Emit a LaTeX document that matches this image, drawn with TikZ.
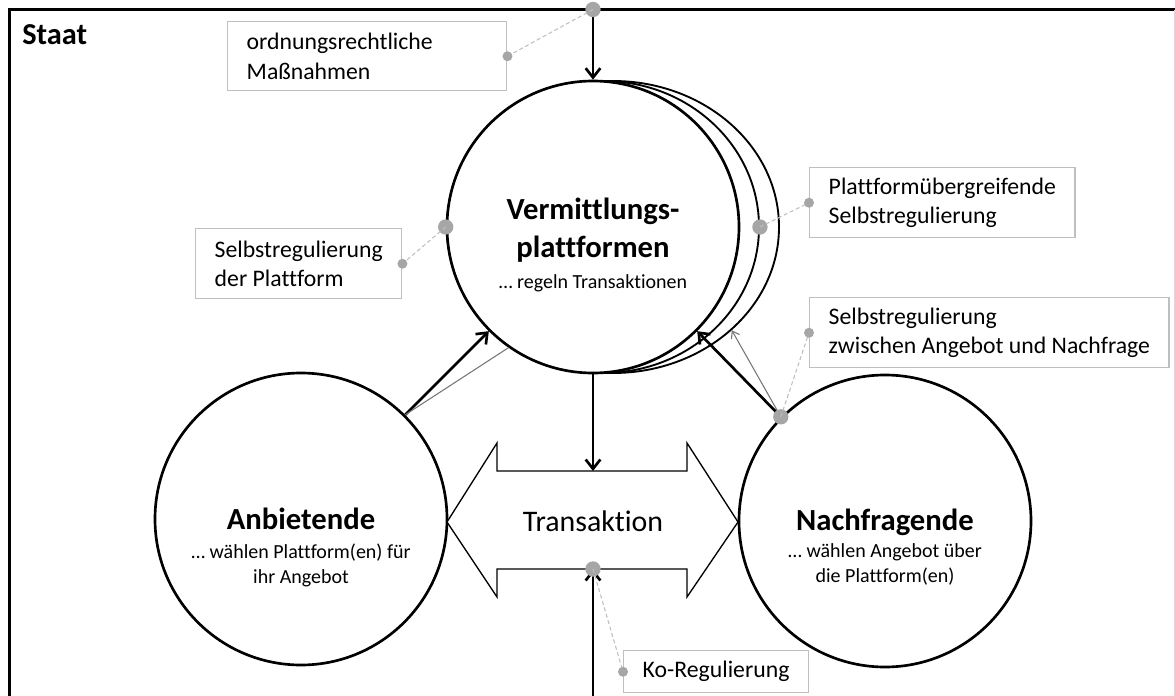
\documentclass[tikz,border=0pt]{standalone}
\usepackage{fontspec}
\setmainfont{Carlito}[Ligatures=NoCommon]
\usetikzlibrary{arrows.meta,shapes.geometric}
\definecolor{dotgray}{RGB}{166,166,166}
\definecolor{boxgray}{RGB}{191,191,191}
\definecolor{thingray}{RGB}{118,118,118}
\tikzset{>={Straight Barb[length=7pt,width=11pt]}}
\tikzset{
  actor/.style={circle,draw,line width=2pt,fill=white,minimum size=219pt,inner sep=0pt},
  backactor/.style={ellipse,draw,fill=white,line width=1.4pt,minimum height=219pt,inner sep=0pt},
  infobox/.style={draw=boxgray,line width=1.1pt,fill=white,align=left,anchor=north west,
    inner xsep=14.25pt,inner ysep=0pt,font=\fontsize{17.8}{22}\selectfont},
  bigdot/.style={circle,fill=dotgray,inner sep=0pt,minimum size=11.5pt},
  smalldot/.style={circle,fill=dotgray,inner sep=0pt,minimum size=7.5pt},
  hint/.style={draw=boxgray,line width=0.8pt,dash pattern=on 3pt off 2pt},
  heavy/.style={->,line width=2pt},
  light/.style={thingray,line width=0.8pt},
  actortitle/.style={font=\fontsize{23}{29}\selectfont\bfseries,align=center},
  actortext/.style={font=\fontsize{15}{18.75}\selectfont,align=center},
}

\begin{document}
\begin{tikzpicture}[x=0.75pt,y=-0.75pt]
  \useasboundingbox (0,0) rectangle (1175,696);
  % frame
  \draw[line width=2.2pt] (9.5,700) |- (1175,9.5);
  \draw[gray!30,line width=0.6pt] (1174,9.5) -- (1174,696);
  \node[font=\fontsize{22.8}{27}\selectfont\bfseries,anchor=base west,inner sep=0pt] (staat) at (22,44) {Staat};
  \coordinate (topdot) at (593,9.5);
  \coordinate (bottomEnd) at (593,700);
  \coordinate (transTop) at (593,471);
  \coordinate (transBottom) at (593,569);
  % circles
  \node[backactor,minimum width=249pt] (plattC) at (613,227) {};
  \node[backactor,minimum width=234pt] (plattB) at (603,227) {};
  \node[actor] (platt) at (593,227) {};
  \node[actor] (anbieter) at (301,519) {};
  \node[actor] (nachfrager) at (885,521) {};
  \node[actortitle] (plattTitle) at (593,230) {Vermittlungs-\\plattformen};
  \node[actortext,anchor=base] (plattText) at (593,288) {… regeln Transaktionen};
  \node[actortitle,anchor=base] (anbieterTitle) at (301,529) {Anbietende};
  \node[actortext] (anbieterText) at (301,565) {… wählen Plattform(en) für\\ihr Angebot};
  \node[actortitle,anchor=base] (nachfragerTitle) at (885,530) {Nachfragende};
  \node[actortext] (nachfragerText) at (885,564) {… wählen Angebot über\\die Plattform(en)};
  % transaction
  \draw[line width=1pt,fill=white] (447,522) -- (497,443) -- (497,471) -- (687,471) -- (687,443)
    -- (738,522) -- (687,597) -- (687,569) -- (497,569) -- (497,597) -- cycle;
  \node[font=\fontsize{22.4}{27}\selectfont,anchor=base] (transaktion) at (593,531) {Transaktion};
  % regulation arrows
  \draw[heavy] (topdot) -- (platt.north);
  \draw[heavy] (platt.south) -- (transTop);
  \draw[heavy] (bottomEnd) -- (transBottom);
  \draw[heavy] (anbieter.45) -- (platt.225);
  \draw[light] (anbieter.45) -- (platt.235);
  \draw[heavy] (nachfrager.135) -- (platt.-45);
  \draw[light,-{Straight Barb[length=5pt,width=7pt]}] (nachfrager.135) -- (plattC.-41);
  % boxes
  \node[infobox,text width=180.75pt,minimum height=51.75pt] (ordnung) at (227,21)
    {ordnungsrechtliche\\Maßnahmen};
  \node[infobox,minimum height=52.5pt] (selbst) at (195,228)
    {Selbstregulierung\\der Plattform};
  \node[infobox,minimum height=52.5pt] (uebergreifend) at (809,167)
    {Plattformübergreifende\\Selbstregulierung};
  \node[infobox,minimum height=52.5pt] (zwischen) at (809,297)
    {Selbstregulierung\\zwischen Angebot und Nachfrage};
  \node[infobox,minimum height=31.5pt] (koreg) at (623,650)
    {Ko-Regulierung};
  % dots and hints
  \node[bigdot] (dotTop) at (topdot) {};
  \node[bigdot] (dotPlatt) at (platt.west) {};
  \node[bigdot] (dotUeber) at (plattB.east) {};
  \node[bigdot] (dotNach) at (nachfrager.135) {};
  \node[bigdot] (dotKo) at (transBottom) {};
  \draw[hint] (dotTop.center) -- (ordnung.east);
  \draw[hint] (dotPlatt.center) -- (selbst.east);
  \draw[hint] (dotUeber.center) -- (uebergreifend.west);
  \draw[hint] (dotNach.center) -- (zwischen.west);
  \draw[hint] (dotKo.center) -- (koreg.west);
  \node[smalldot] at (ordnung.east) {};
  \node[smalldot] at (selbst.east) {};
  \node[smalldot] at (uebergreifend.west) {};
  \node[smalldot] at (zwischen.west) {};
  \node[smalldot] at (koreg.west) {};
\end{tikzpicture}
\end{document}
